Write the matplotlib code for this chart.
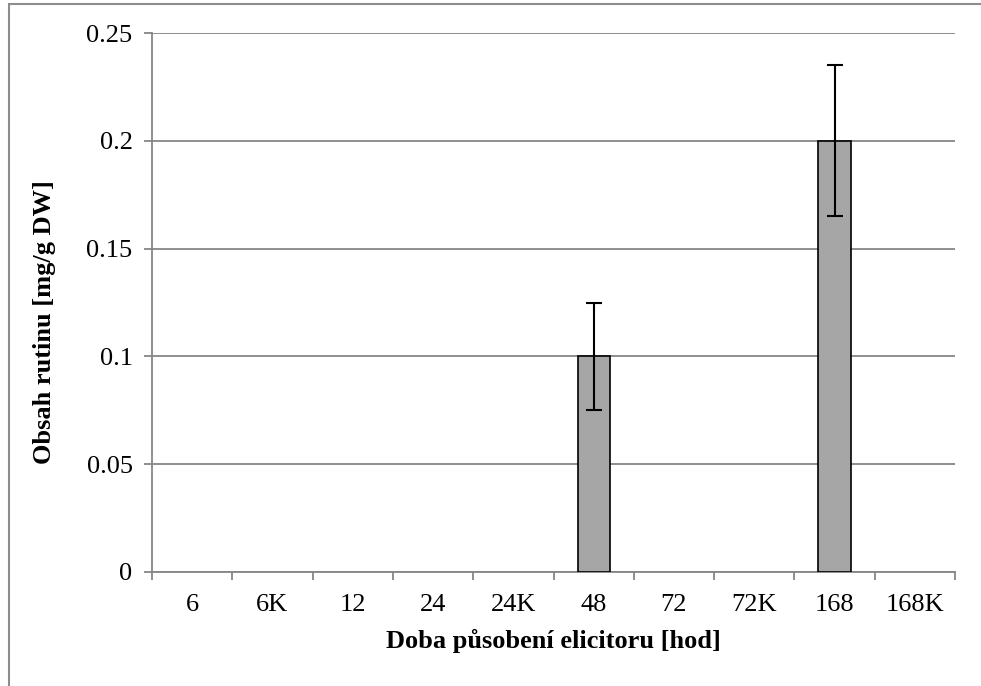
import numpy as np
import matplotlib.pyplot as plt
from matplotlib.patches import Rectangle

plt.rcParams['font.family'] = ['Liberation Serif', 'DejaVu Serif']

# rutin content per elicitation time
labels = ['6', '6K', '12', '24', '24K', '48', '72', '72K', '168', '168K']
values = [0, 0, 0, 0, 0, 0.1, 0, 0, 0.2, 0]
errors = [0, 0, 0, 0, 0, 0.025, 0, 0, 0.035, 0]

W, H = 981, 686
fig = plt.figure(figsize=(W / 100, H / 100), dpi=100)
ax = fig.add_axes([152 / W, 1 - 572 / H, (955 - 152) / W, (572 - 33) / H])

# outer chart frame
fig.patches.append(Rectangle((9 / W, -0.1), 1.2, 1 - 4 / H + 0.1, transform=fig.transFigure,
                             fill=False, edgecolor='#8c8c8c', linewidth=1.5, zorder=0))

x = np.arange(len(labels))
shown = [i for i, v in enumerate(values) if v > 0]
ax.bar(x[shown], [values[i] for i in shown], width=0.4, color='#a6a6a6',
       edgecolor='black', linewidth=1.2, zorder=3)
ax.errorbar(x[shown], [values[i] for i in shown], yerr=[errors[i] for i in shown],
            fmt='none', ecolor='black', elinewidth=1.5, capsize=6, capthick=1.5, zorder=4)

ax.set_xlim(-0.5, len(labels) - 0.5)
ax.set_ylim(0, 0.25)
ax.set_yticks([0, 0.05, 0.1, 0.15, 0.2, 0.25])
ax.set_yticklabels(['0', '0.05', '0.1', '0.15', '0.2', '0.25'])
ax.yaxis.grid(True, color='#868686', linewidth=1.3, zorder=0)
ax.set_axisbelow(True)

ax.set_xticks(x)
ax.set_xticklabels(labels)
ax.set_xticks(np.arange(-0.5, len(labels)), minor=True)
ax.tick_params(axis='x', which='major', length=0, pad=16, labelsize=19)
ax.tick_params(axis='x', which='minor', length=6, width=1.3, color='#868686')
ax.tick_params(axis='y', length=6, width=1.3, color='#868686', pad=8, labelsize=19)

for s in ['top', 'right']:
    ax.spines[s].set_visible(False)
for s in ['left', 'bottom']:
    ax.spines[s].set_color('#868686')
    ax.spines[s].set_linewidth(1.3)

ax.set_xlabel('Doba působení elicitoru [hod]', fontsize=19, fontweight='bold', labelpad=9)
ax.set_ylabel('Obsah rutinu [mg/g DW]', fontsize=19, fontweight='bold')
ax.yaxis.set_label_coords(-0.12, 0.464)

fig.savefig('out.png', dpi=100)
